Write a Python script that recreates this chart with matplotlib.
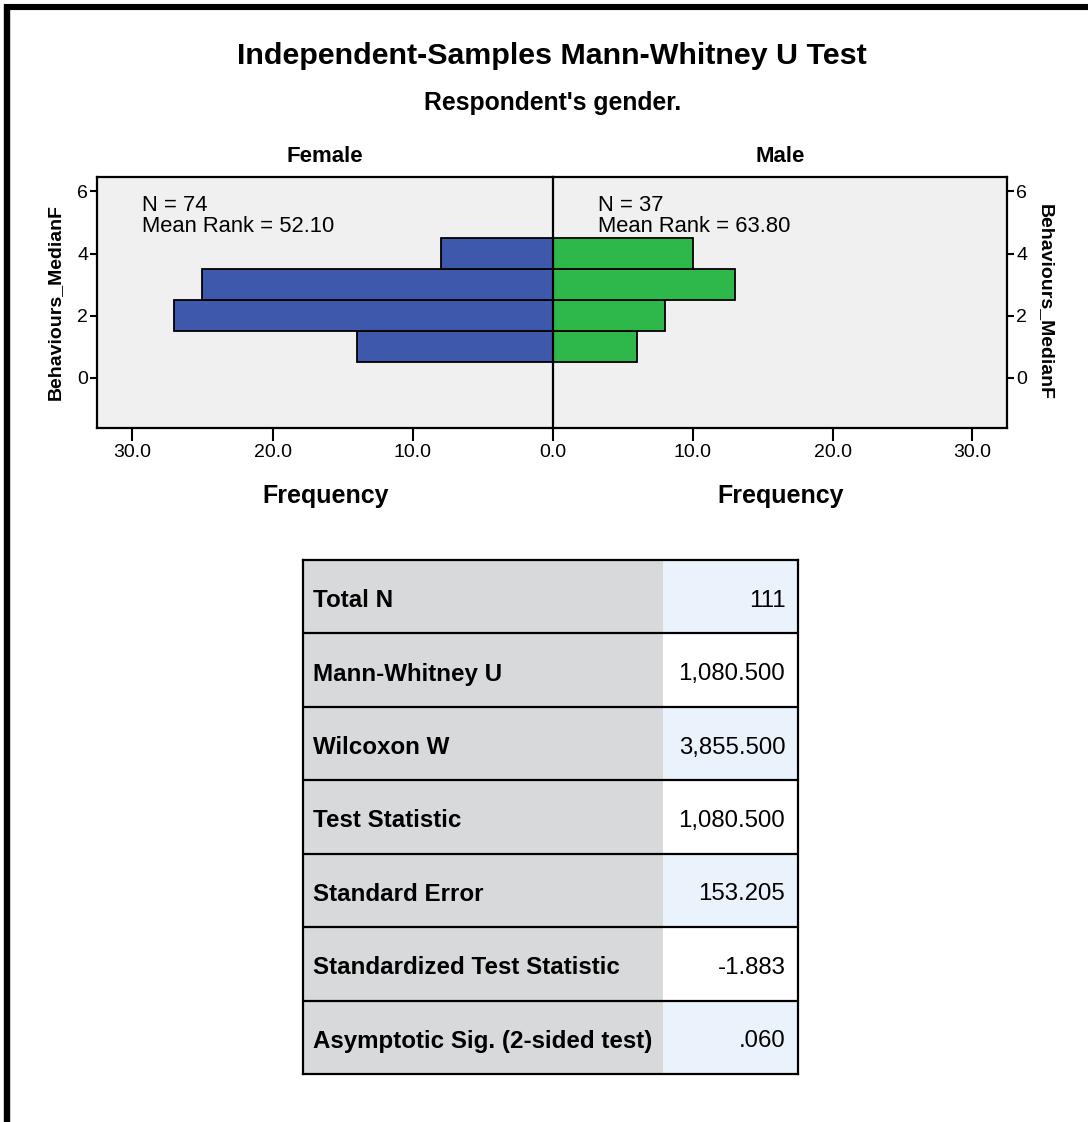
import matplotlib
matplotlib.use("Agg")
import matplotlib.pyplot as plt
from matplotlib.patches import Rectangle
from matplotlib.lines import Line2D

# ---------------- data ----------------
bins = [1, 2, 3, 4]                 # Behaviours_MedianF bin centres
female_freq = [14, 27, 25, 8]
male_freq = [6, 8, 13, 10]
female_n, female_rank = 74, "52.10"
male_n, male_rank = 37, "63.80"
freq_ticks = [0, 10, 20, 30]
y_ticks = [0, 2, 4, 6]

table_labels = ["Total N", "Mann-Whitney U", "Wilcoxon W", "Test Statistic",
                "Standard Error", "Standardized Test Statistic",
                "Asymptotic Sig. (2-sided test)"]
table_values = ["111", "1,080.500", "3,855.500", "1,080.500", "153.205",
                "-1.883", ".060"]

# ---------------- style ----------------
W, H, DPI = 1088, 1122, 100
plt.rcParams['font.family'] = ['Liberation Sans', 'DejaVu Sans']
BLUE = "#3E58AB"
GREEN = "#2EB84A"
BG = "#F0F0F0"
GRAY = "#D8D9DB"
LBLUE = "#EAF3FC"


def fx(px):
    return px / W


def fy(py):
    return 1 - py / H


fig = plt.figure(figsize=(W / DPI, H / DPI), dpi=DPI)
fig.patch.set_facecolor("white")

# frame lines (top and left)
fig.add_artist(Line2D([fx(4), 1], [fy(7), fy(7)], lw=4.4, color="black",
                      transform=fig.transFigure, solid_capstyle="butt"))
fig.add_artist(Line2D([fx(7), fx(7)], [fy(4), 0], lw=4.6, color="black",
                      transform=fig.transFigure, solid_capstyle="butt"))

# titles
fig.text(fx(551.5), fy(56), "Independent-Samples Mann-Whitney U Test",
         ha="center", va="center", fontsize=21.9, fontweight="bold")
fig.text(fx(552.5), fy(103), "Respondent's gender.",
         ha="center", va="center", fontsize=17.8, fontweight="bold")

# axes geometry
L, C, R = 97.3, 553.0, 1007.3
T, B = 177.3, 427.7
axL = fig.add_axes([fx(L), fy(B), fx(C) - fx(L), (B - T) / H])
axR = fig.add_axes([fx(C), fy(B), fx(R) - fx(C), (B - T) / H])

XMAX = 32.5
YMIN, YMAX = -1.6, 6.45

for ax, freq, color in ((axL, female_freq, BLUE), (axR, male_freq, GREEN)):
    ax.set_facecolor(BG)
    ax.barh(bins, freq, height=1.0, color=color, edgecolor="black",
            linewidth=1.3, zorder=2)
    ax.set_ylim(YMIN, YMAX)
    ax.set_yticks(y_ticks)
    ax.set_yticklabels([str(v) for v in y_ticks])
    for s in ax.spines.values():
        s.set_linewidth(1.6)
    ax.tick_params(axis="x", direction="out", length=9, width=1.5, pad=3,
                   labelsize=14)
    ax.tick_params(axis="y", direction="out", length=5, width=1.5, pad=1.5,
                   labelsize=14)

axL.set_xlim(XMAX, 0)
axL.set_xticks(freq_ticks)
axL.set_xticklabels([f"{v:.1f}" for v in freq_ticks])
axL.spines["right"].set_visible(False)

axR.set_xlim(0, XMAX)
axR.set_xticks(freq_ticks[1:])
axR.set_xticklabels([f"{v:.1f}" for v in freq_ticks[1:]])
axR.yaxis.tick_right()
axR.spines["left"].set_zorder(5)

axL.set_ylabel("Behaviours_MedianF", fontsize=14, fontweight="bold",
               labelpad=10)
axR.yaxis.set_label_position("right")
axR.set_ylabel("Behaviours_MedianF", fontsize=14, fontweight="bold",
               rotation=270, labelpad=19)

# group titles and axis titles
for ax, name in ((axL, "Female"), (axR, "Male")):
    ax.text(0.5, (B - 156) / (B - T), name, transform=ax.transAxes,
            ha="center", va="center", fontsize=16, fontweight="bold")
    ax.text(0.5, (B - 496) / (B - T), "Frequency", transform=ax.transAxes,
            ha="center", va="center", fontsize=18, fontweight="bold")

# N / mean rank annotations
for ax, n, rank in ((axL, female_n, female_rank), (axR, male_n, male_rank)):
    ax.text(0.098, (B - 195) / (B - T), f"N = {n}\nMean Rank = {rank}",
            transform=ax.transAxes, ha="left", va="top", fontsize=15.8,
            linespacing=0.98, zorder=6)

# ---------------- table ----------------
TL, TR, TT, TB = 303.3, 798.3, 560.0, 1074.0
SPLIT = 662.7
axT = fig.add_axes([fx(TL), fy(TB), (TR - TL) / W, (TB - TT) / H])
nrows = len(table_labels)
axT.set_xlim(0, 1)
axT.set_ylim(nrows, 0)
split = (SPLIT - TL) / (TR - TL)
for i, (lab, val) in enumerate(zip(table_labels, table_values)):
    axT.add_patch(Rectangle((0, i), split, 1, facecolor=GRAY, edgecolor="none"))
    axT.add_patch(Rectangle((split, i), 1 - split, 1,
                            facecolor=LBLUE if i % 2 == 0 else "white",
                            edgecolor="none"))
    axT.text(9.5 / (TR - TL), i + 0.52, lab, ha="left", va="center_baseline",
             fontsize=17.4, fontweight="bold")
    axT.text(1 - 13 / (TR - TL), i + 0.52, val, ha="right",
             va="center_baseline", fontsize=17.3)
    if i > 0:
        axT.axhline(i, color="black", lw=1.6)
axT.set_xticks([])
axT.set_yticks([])
for s in axT.spines.values():
    s.set_linewidth(1.6)

fig.savefig("out.png", dpi=DPI)
